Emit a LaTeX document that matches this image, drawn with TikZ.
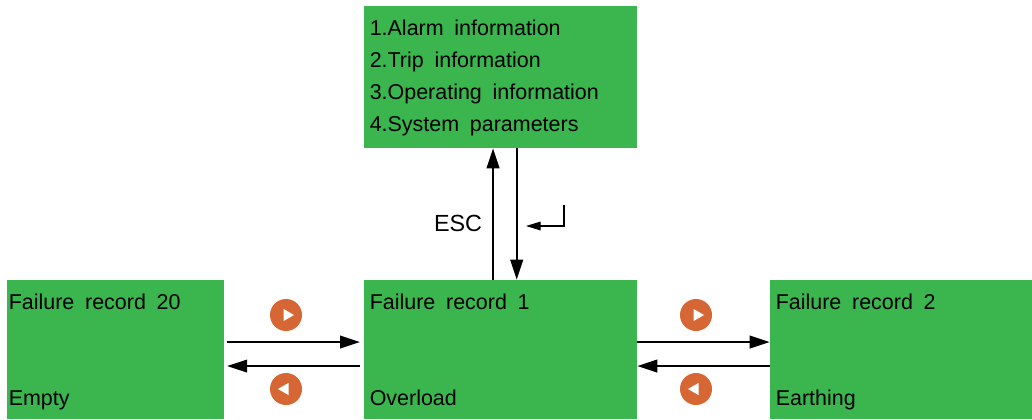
\documentclass[tikz,border=0pt]{standalone}
\usepackage{fontspec}
\setmainfont[WordSpace=1.8]{Liberation Sans}
\usepackage{tikz}
\usetikzlibrary{arrows.meta}
\usetikzlibrary{shapes.geometric}
\definecolor{boxgreen}{HTML}{3BB54E}
\definecolor{keyorange}{HTML}{D66734}
\begin{document}
\begin{tikzpicture}[x=0.75pt, y=-0.75pt,
			menubox/.style={fill=boxgreen, rectangle, inner sep=0pt},
			boxtext/.style={anchor=base west, inner sep=0pt, font=\fontsize{16.1}{19}\selectfont},
			keydot/.style={fill=keyorange, circle, minimum size=24pt, inner sep=0pt},
			keytri/.style={fill=white, regular polygon, regular polygon sides=3, minimum size=10.5pt, inner sep=0pt},
			bigarrow/.style={-{Triangle[length=15pt, width=9.5pt]}, line width=1.4pt},
			smallarrow/.style={-{Triangle[length=11pt, width=6.5pt]}, line width=0.9pt}]
			\useasboundingbox (0,0) rectangle (1032,419);
			
			\node[menubox, minimum width=204.75pt, minimum height=106.5pt](menu) at (500.5, 77) {};
			\node[menubox, minimum width=162.75pt, minimum height=104.25pt](rec20) at (115.5, 349.5) {};
			\node[menubox, minimum width=204.75pt, minimum height=104.25pt](rec1) at (500.5, 349.5) {};
			\node[menubox, minimum width=196.5pt, minimum height=104.25pt](rec2) at (901, 349.5) {};
			
			\node[boxtext](line1) at (369.5, 35) {1.Alarm information};
			\node[boxtext](line2) at (369.5, 67) {2.Trip information};
			\node[boxtext](line3) at (369.5, 99) {3.Operating information};
			\node[boxtext](line4) at (369.5, 131) {4.System parameters};
			
			\node[boxtext](title20) at (8.5, 309) {Failure record 20};
			\node[boxtext](fault20) at (8.5, 405) {Empty};
			\node[boxtext](title1) at (369.5, 309) {Failure record 1};
			\node[boxtext](fault1) at (369.5, 405) {Overload};
			\node[boxtext](title2) at (775.5, 309) {Failure record 2};
			\node[boxtext](fault2) at (775.5, 405) {Earthing};
			
			\node[keydot](next1) at (286, 315) {};
			\node[keytri, shape border rotate=-90](next1tri) at (287, 315) {};
			\node[keydot](prev1) at (286, 389) {};
			\node[keytri, shape border rotate=90](prev1tri) at (285, 389) {};
			\node[keydot](next2) at (696, 315) {};
			\node[keytri, shape border rotate=-90](next2tri) at (697, 315) {};
			\node[keydot](prev2) at (696, 389) {};
			\node[keytri, shape border rotate=90](prev2tri) at (695, 389) {};
			
			\draw[bigarrow, shorten <=2.2pt, shorten >=2.8pt] ([yshift=5.6pt]rec20.east) -- ([yshift=5.6pt]rec1.west);
			\draw[bigarrow, shorten <=2.8pt, shorten >=2.2pt] ([yshift=-12.4pt]rec1.west) -- ([yshift=-12.4pt]rec20.east);
			\draw[bigarrow] ([yshift=5.6pt]rec1.east) -- ([yshift=5.6pt]rec2.west);
			\draw[bigarrow] ([yshift=-12.4pt]rec2.west) -- ([yshift=-12.4pt]rec1.east);
			
			\draw[bigarrow] ([xshift=-5.6pt]rec1.north) -- ([xshift=-5.6pt]menu.south);
			\draw[bigarrow] ([xshift=12.15pt]menu.south) -- ([xshift=12.15pt]rec1.north);
			
			\node[inner sep=0pt, font=\fontsize{17.5}{21}\selectfont](esc) at (458, 223) {ESC};
			
			\coordinate(enter1) at (564, 205);
			\coordinate(enter2) at (564, 226);
			\coordinate(enter3) at (526, 226);
			\draw[smallarrow] (enter1) -- (enter2) -- (enter3);
			\end{tikzpicture}
\end{document}
